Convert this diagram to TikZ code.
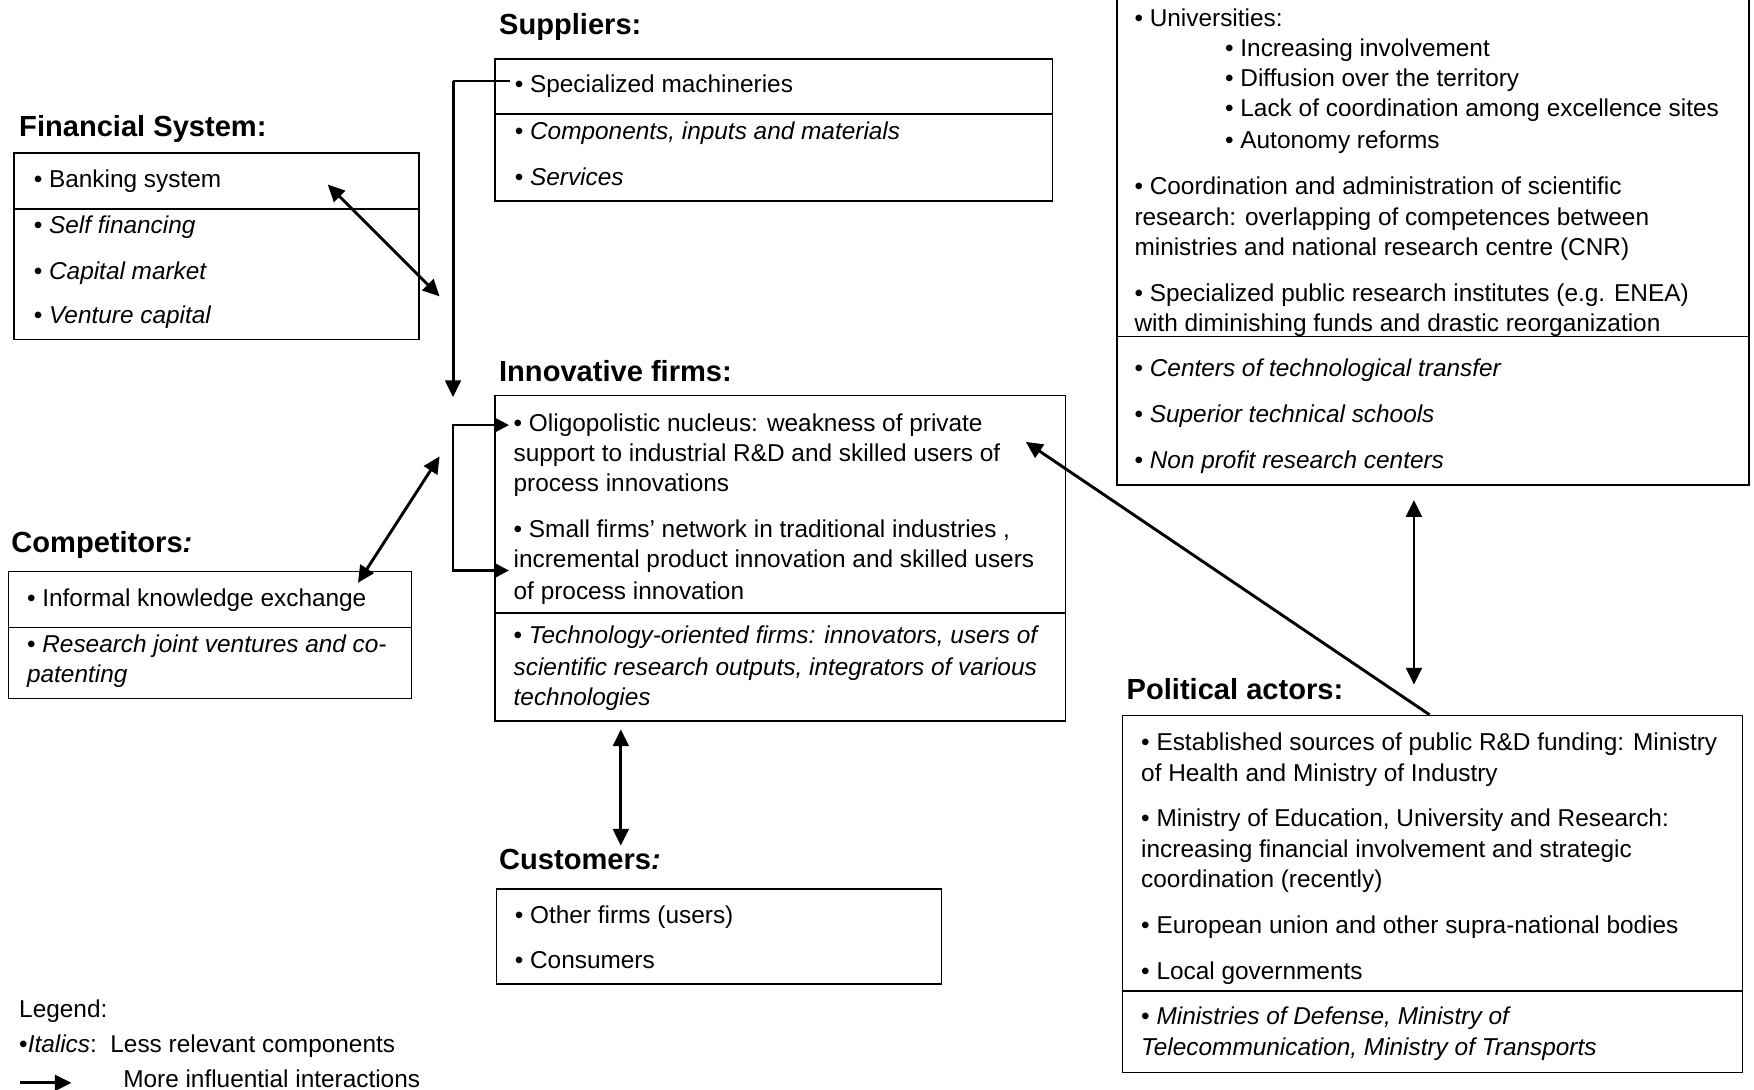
\documentclass[tikz,border=0pt]{standalone}
\usepackage{fontspec}
\setmainfont{Liberation Sans}
\usetikzlibrary{arrows.meta}
\begin{document}
\begin{tikzpicture}[x=1pt,y=-1pt,
  box/.style={draw, line width=1.3pt, anchor=north west, inner sep=0pt},
  ttl/.style={anchor=base west, inner sep=0pt, font=\fontsize{26}{30}\selectfont\bfseries},
  txt/.style={anchor=base west, inner sep=0pt, font=\fontsize{21.8}{27}\selectfont},
  both/.style={line width=2.6pt, {Triangle[length=15pt,width=14pt]}-{Triangle[length=15pt,width=14pt]}},
  one/.style={line width=2.6pt, -{Triangle[length=15pt,width=14pt]}},
  loopar/.style={line width=2.4pt, {Triangle[length=13pt,width=13pt]}-{Triangle[length=13pt,width=13pt]}},
  sep/.style={line width=1.3pt}
]
\useasboundingbox (0,0) rectangle (1568,974);
\clip (0,0) rectangle (1568,974);

% ---------- Financial system
\node[ttl] (fsT) at (17,122) {Financial System:};
\node[box, minimum width=362pt, minimum height=167pt] (fs) at (12,136) {};
\draw[sep] (12,187) -- (374,187);
\node[txt] (fs1) at (30,167.5) {• Banking system};
\node[txt] (fs2) at (30,208.5) {• \textit{Self financing}};
\node[txt] (fs3) at (30,249.5) {• \textit{Capital market}};
\node[txt] (fs4) at (30,289.5) {• \textit{Venture capital}};

% ---------- Suppliers
\node[ttl] (supT) at (446,31) {Suppliers:};
\node[box, minimum width=498pt, minimum height=127pt] (sup) at (442,52) {};
\draw[sep] (442,102) -- (940,102);
\node[txt] (sup1) at (460,82.5) {• Specialized machineries};
\node[txt] (sup2) at (460,124.5) {• \textit{Components, inputs and materials}};
\node[txt] (sup3) at (460,165.5) {• \textit{Services}};

% ---------- Innovative firms
\node[ttl] (ifT) at (446,341) {Innovative firms:};
\node[box, minimum width=510pt, minimum height=291pt] (if) at (442,353) {};
\draw[sep] (442,548) -- (952,548);
\node[txt] (if1) at (459,385.5) {• Oligopolistic nucleus: weakness of private};
\node[txt] (if2) at (459,412.5) {support to industrial R\&D and skilled users of};
\node[txt] (if3) at (459,439.5) {process innovations};
\node[txt] (if4) at (459,480.5) {• Small firms’ network in traditional industries ,};
\node[txt] (if5) at (459,507.5) {incremental product innovation and skilled users};
\node[txt] (if6) at (459,535.5) {of process innovation};
\node[txt] (if7) at (459,575.5) {• \textit{Technology-oriented firms: innovators, users of}};
\node[txt] (if8) at (459,603.5) {\textit{scientific research outputs, integrators of various}};
\node[txt] (if9) at (459,630.5) {\textit{technologies}};

% ---------- Competitors
\node[ttl] (cmT) at (10,494) {Competitors\textit{:}};
\node[box, minimum width=360pt, minimum height=114pt] (cm) at (7,510) {};
\draw[sep] (7,561) -- (367,561);
\node[txt] (cm1) at (24,542.5) {• Informal knowledge exchange};
\node[txt] (cm2) at (24,583.5) {• \textit{Research joint ventures and co-}};
\node[txt] (cm3) at (24,610.5) {\textit{patenting}};

% ---------- Customers
\node[ttl] (cuT) at (446,777) {Customers\textit{:}};
\node[box, minimum width=398pt, minimum height=85pt] (cu) at (443,794) {};
\node[txt] (cu1) at (460,825.5) {• Other firms (users)};
\node[txt] (cu2) at (460,865.5) {• Consumers};

% ---------- Research system (top right)
\node[box, minimum width=565pt, minimum height=443pt] (rs) at (998,-10) {};
\draw[sep] (998,301) -- (1563,301);
\node[txt] (rs1) at (1014,23.5) {• Universities:};
\node[txt] (rs2) at (1095,50.5) {• Increasing involvement};
\node[txt] (rs3) at (1095,77.5) {• Diffusion over the territory};
\node[txt] (rs4) at (1095,104.5) {• Lack of coordination among excellence sites};
\node[txt] (rs5) at (1095,132.5) {• Autonomy reforms};
\node[txt] (rs6) at (1014,173.5) {• Coordination and administration of scientific};
\node[txt] (rs7) at (1014,201.5) {research: overlapping of competences between};
\node[txt] (rs8) at (1014,228.5) {ministries and national research centre (CNR)};
\node[txt] (rs9) at (1014,269.5) {• Specialized public research institutes (e.g. ENEA)};
\node[txt] (rs10) at (1014,296.5) {with diminishing funds and drastic reorganization};
\node[txt] (rs11) at (1014,336.5) {• \textit{Centers of technological transfer}};
\node[txt] (rs12) at (1014,377.5) {• \textit{Superior technical schools}};
\node[txt] (rs13) at (1014,418.5) {• \textit{Non profit research centers}};

% ---------- Political actors
\node[ttl] (paT) at (1007,625) {Political actors:};
\node[box, minimum width=554pt, minimum height=319pt] (pa) at (1003,639) {};
\draw[sep] (1003,886) -- (1557,886);
\node[txt] (pa1) at (1020,670.5) {• Established sources of public R\&D funding: Ministry};
\node[txt] (pa2) at (1020,698.5) {of Health and Ministry of Industry};
\node[txt] (pa3) at (1020,738.5) {• Ministry of Education, University and Research:};
\node[txt] (pa4) at (1020,766.5) {increasing financial involvement and strategic};
\node[txt] (pa5) at (1020,793.5) {coordination (recently)};
\node[txt] (pa6) at (1020,834.5) {• European union and other supra-national bodies};
\node[txt] (pa7) at (1020,875.5) {• Local governments};
\node[txt] (pa8) at (1020,915.5) {• \textit{Ministries of Defense, Ministry of}};
\node[txt] (pa9) at (1020,943.5) {\textit{Telecommunication, Ministry of Transports}};

% ---------- Legend
\node[txt] (lg1) at (17,909.5) {Legend:};
\node[txt] (lg2) at (17,940.5) {•\textit{Italics}:\ \ Less relevant components};
\node[txt] (lg3) at (110,972.5) {More influential interactions};
\coordinate (lgA) at (18,968);
\coordinate (lgB) at (64,968);
\draw[one] (lgA) -- (lgB);

% ---------- connectors
\coordinate (fsA) at (293,165);
\coordinate (fsB) at (393,265);
\draw[both] (fsA) -- (fsB);

\coordinate (supA) at (456,72);
\coordinate (supB) at (405,72);
\coordinate (supC) at (405,355);
\draw[line width=1.8pt] (supA) -- (supB);
\draw[one] (supB) -- (supC);

\coordinate (lpA) at (455,380);
\coordinate (lpB) at (405,380);
\coordinate (lpC) at (405,510);
\coordinate (lpD) at (455,510);
\draw[loopar] (lpA) -- (lpB) -- (lpC) -- (lpD);

\coordinate (cmA) at (320,521);
\coordinate (cmB) at (393,408);
\draw[both] (cmA) -- (cmB);

\coordinate (cuA) at (555,652);
\coordinate (cuB) at (555,756);
\draw[both] (cuA) -- (cuB);

\coordinate (rsA) at (1264,447);
\coordinate (rsB) at (1264,612);
\draw[both] (rsA) -- (rsB);

\coordinate (paA) at (1278,639);
\coordinate (paB) at (917,395);
\draw[one] (paA) -- (paB);
\end{tikzpicture}
\end{document}
